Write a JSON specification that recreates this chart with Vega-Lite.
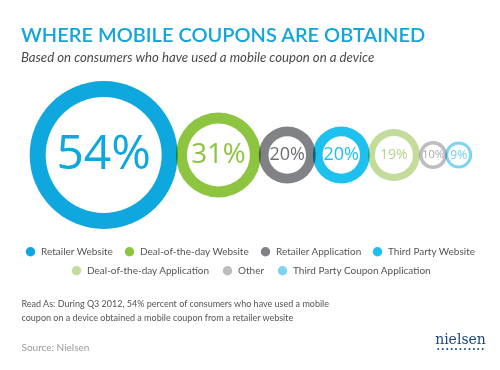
{
  "$schema": "https://vega.github.io/schema/vega-lite/v6.json",
  "width": 500,
  "height": 166,
  "autosize": {"type": "none"},
  "padding": {"top": 72, "left": 0, "right": 0, "bottom": 132},
  "background": "white",
  "title": {
    "text": "WHERE MOBILE COUPONS ARE OBTAINED",
    "subtitle": "Based on consumers who have used a mobile coupon on a device",
    "frame": "group",
    "anchor": "start",
    "dx": 21,
    "offset": 8,
    "font": "Lato",
    "fontSize": 20,
    "fontWeight": 600,
    "color": "#12a6dd",
    "subtitleFont": "Lato",
    "subtitleFontSize": 13.2,
    "subtitleFontStyle": "italic",
    "subtitleColor": "#4a4a4a",
    "subtitlePadding": 6
  },
  "config": {
    "view": {"stroke": null},
    "legend": {
      "symbolType": "circle",
      "symbolSize": 90,
      "labelFont": "Lato",
      "labelFontSize": 10,
      "labelColor": "#555555",
      "columnPadding": 10,
      "labelOffset": 5,
      "padding": 0
    }
  },
  "data": {
    "values": [
      {"source": "Retailer Website", "share": 0.54},
      {"source": "Deal-of-the-day Website", "share": 0.31},
      {"source": "Retailer Application", "share": 0.20},
      {"source": "Third Party Website", "share": 0.20},
      {"source": "Deal-of-the-day Application", "share": 0.19},
      {"source": "Other", "share": 0.10},
      {"source": "Third Party Coupon Application", "share": 0.09}
    ]
  },
  "transform": [
    {"stack": "share", "groupby": [], "as": ["prev", "cum"]},
    {"fold": ["prev", "cum"], "as": ["edgeKind", "edge"]},
    {"aggregate": [{"op": "mean", "field": "edge", "as": "center"}], "groupby": ["source", "share"]}
  ],
  "encoding": {
    "x": {
      "field": "center",
      "type": "quantitative",
      "scale": {"domain": [-0.114, 1.738], "nice": false, "zero": false},
      "axis": {
        "labels": false, "ticks": false, "domain": false, "grid": false,
        "title": ["Read As: During Q3 2012, 54% percent of consumers who have used a mobile", "coupon on a device obtained a mobile coupon from a retailer website"],
        "titleFont": "Lato",
        "titleFontSize": 9,
        "titleFontWeight": "normal",
        "titleColor": "#555555",
        "titleAlign": "left",
        "titleAnchor": "start",
        "titleBaseline": "top",
        "titleX": 21,
        "titleY": 61,
        "titleLineHeight": 14
      }
    },
    "y": {
      "datum": 0,
      "type": "quantitative",
      "scale": {"domain": [-1, 1], "nice": false},
      "axis": {
        "labels": false, "ticks": false, "domain": false, "grid": false,
        "title": "Source: Nielsen",
        "titleFont": "Lato",
        "titleFontSize": 10,
        "titleFontWeight": "normal",
        "titleColor": "#999999",
        "titleAngle": 0,
        "titleAlign": "left",
        "titleBaseline": "middle",
        "titleX": 21,
        "titleY": 275
      }
    }
  },
  "layer": [
    {
      "transform": [{"filter": {"field": "source", "oneOf": ["Retailer Website", "Deal-of-the-day Website", "Retailer Application", "Third Party Website"]}}],
      "mark": {"type": "circle", "opacity": 1, "blend": "multiply"},
      "encoding": {
        "color": {
          "field": "source", "type": "nominal",
          "scale": {"domain": ["Retailer Website", "Deal-of-the-day Website", "Retailer Application", "Third Party Website"], "range": ["#0ea7de", "#8dc540", "#818285", "#1ec0ee"]},
          "legend": {"title": null, "orient": "none", "direction": "horizontal", "legendX": 25, "legendY": 174}
        },
        "size": {
          "field": "share", "type": "quantitative",
          "scale": {"domain": [0.09, 0.1, 0.19, 0.2, 0.31, 0.54], "range": [729, 784, 2704, 3249, 7225, 21904]},
          "legend": null
        }
      }
    },
    {
      "transform": [{"filter": {"field": "source", "oneOf": ["Deal-of-the-day Application", "Other", "Third Party Coupon Application"]}}],
      "mark": {"type": "circle", "opacity": 1, "blend": "multiply"},
      "encoding": {
        "color": {
          "field": "source", "type": "nominal",
          "scale": {"domain": ["Deal-of-the-day Application", "Other", "Third Party Coupon Application"], "range": ["#c3dc9b", "#bcbdbf", "#7dd3f4"]},
          "legend": {"title": null, "orient": "none", "direction": "horizontal", "legendX": 71, "legendY": 193, "columnPadding": 12}
        },
        "size": {
          "field": "share", "type": "quantitative",
          "scale": {"domain": [0.09, 0.1, 0.19, 0.2, 0.31, 0.54], "range": [729, 784, 2704, 3249, 7225, 21904]},
          "legend": null
        }
      }
    },
    {
      "mark": {"type": "circle", "opacity": 1, "color": "white"},
      "encoding": {
        "size": {
          "field": "share", "type": "quantitative",
          "scale": {"domain": [0.09, 0.1, 0.19, 0.2, 0.31, 0.54], "range": [441, 441, 1444, 1406, 3969, 13456]},
          "legend": null
        }
      }
    },
    {
      "mark": {"type": "text", "font": "Open Sans", "align": "center", "baseline": "middle"},
      "encoding": {
        "y": {
          "datum": 0,
          "type": "quantitative",
          "scale": {"domain": [-1, 1], "nice": false},
          "axis": {
            "orient": "right",
            "labels": false, "ticks": false, "domain": false, "grid": false,
            "title": ["nielsen", "···········"],
            "titleFont": "DejaVu Serif",
            "titleFontSize": 14,
            "titleFontWeight": "normal",
            "titleColor": "#1d4575",
            "titleAngle": 0,
            "titleAlign": "center",
            "titleBaseline": "top",
            "titleLineHeight": 10,
            "titleX": -40,
            "titleY": 260
          }
        },
        "text": {"field": "share", "type": "quantitative", "format": ".0%"},
        "color": {
          "field": "source", "type": "nominal",
          "scale": {"domain": ["Retailer Website", "Deal-of-the-day Website", "Retailer Application", "Third Party Website", "Deal-of-the-day Application", "Other", "Third Party Coupon Application"], "range": ["#0ea7de", "#8dc540", "#6f7073", "#1ec0ee", "#b5d48a", "#a9aaac", "#6ccdf2"]},
          "legend": null
        },
        "size": {
          "field": "share", "type": "quantitative",
          "scale": {"domain": [0.09, 0.1, 0.19, 0.2, 0.54], "range": [12, 11, 14, 18, 48]},
          "legend": null
        }
      }
    }
  ],
  "resolve": {
    "scale": {"color": "independent", "size": "independent", "y": "independent"},
    "axis": {"y": "independent"}
  }
}
